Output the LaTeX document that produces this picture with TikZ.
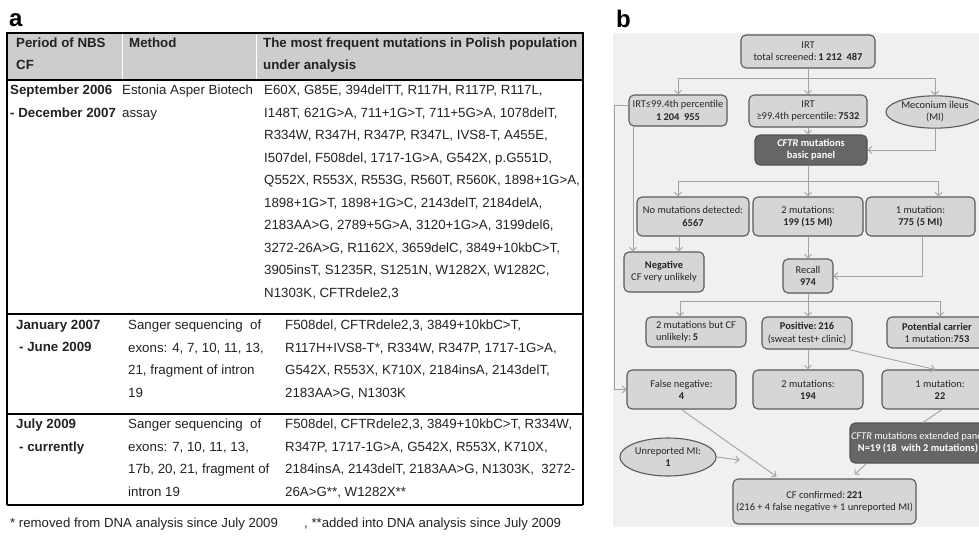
\documentclass[tikz,border=0pt]{standalone}
\usepackage{fontspec}
\setmainfont{Liberation Sans}
\newfontfamily\flowfont{Carlito}
\usetikzlibrary{arrows.meta,shapes.geometric}
\definecolor{hdrgray}{HTML}{CDCDCD}
\definecolor{panelbg}{HTML}{F0F0F0}
\definecolor{boxfill}{HTML}{D6D6D6}
\definecolor{boxline}{HTML}{5A5A5A}
\definecolor{darkfill}{HTML}{666666}
\definecolor{connc}{HTML}{A3A3A3}
\definecolor{txt}{HTML}{222222}
\begin{document}
\begin{tikzpicture}[x=1pt,y=-1pt,
 tcell/.style={anchor=north west, inner sep=0pt, align=left, font=\fontsize{13.3}{22.5}\selectfont, text=txt},
 tbold/.style={tcell, font=\fontsize{13.3}{22.5}\selectfont\bfseries},
 fnote/.style={anchor=north west, inner sep=0pt, font=\fontsize{13.2}{15}\selectfont, text=txt},
 fbox/.style={draw=boxline, line width=1.1pt, fill=boxfill, rounded corners=5pt, inner sep=1pt, align=center, font=\flowfont\fontsize{10.4}{12.2}\selectfont, text=black!85},
 fdark/.style={fbox, fill=darkfill, draw=darkfill!80!black, text=white},
 fell/.style={fbox, ellipse, rounded corners=0pt},
 conn/.style={draw=connc, line width=0.9pt, -{Straight Barb[length=3.5pt,width=7pt]}},
 plain/.style={draw=connc, line width=0.9pt},
 lbl/.style={anchor=base west, inner sep=0pt, font=\fontsize{24}{24}\selectfont\bfseries}
]
\useasboundingbox (0,0) rectangle (979,543);

% ---------------- panel a : table ----------------
\node[lbl] (la) at (9,27) {a};
\fill[hdrgray] (7,33) rectangle (583,80);
\draw[white, line width=0.8pt] (122,34) -- (122,79);
\draw[white, line width=0.8pt] (256,34) -- (256,79);
\draw[line width=2.4pt] (6,33) -- (584,33);
\draw[line width=2.4pt] (6,80) -- (584,80);
\draw[line width=2pt] (6,314) -- (584,314);
\draw[line width=1.2pt] (7,414) -- (583,414);
\draw[line width=1.2pt] (7,505) -- (583,505);
\draw[line width=2.2pt] (7,33) -- (7,405);
\draw[line width=1.2pt] (7,405) -- (7,505);
\draw[line width=1.4pt] (583,33) -- (583,505);

\node[tbold] (h1) at (16,37.5) {Period of NBS\\CF};
\node[tbold] (h2) at (129,37.5) {Method};
\node[tbold] (h3) at (263,37.5) {The most frequent mutations in Polish population\\under analysis};

\node[tbold] (r1a) at (10,85) {September 2006\\- December 2007};
\node[tcell] (r1b) at (122,85) {Estonia Asper Biotech\\assay};
\node[tcell] (r1c) at (264,85) {E60X, G85E, 394delTT, R117H, R117P, R117L,\\I148T, 621G>A, 711+1G>T, 711+5G>A, 1078delT,\\R334W, R347H, R347P, R347L, IVS8-T, A455E,\\I507del, F508del, 1717-1G>A, G542X, p.G551D,\\Q552X, R553X, R553G, R560T, R560K, 1898+1G>A,\\1898+1G>T, 1898+1G>C, 2143delT, 2184delA,\\2183AA>G, 2789+5G>A, 3120+1G>A, 3199del6,\\3272-26A>G, R1162X, 3659delC, 3849+10kbC>T,\\3905insT, S1235R, S1251N, W1282X, W1282C,\\N1303K, CFTRdele2,3};

\node[tbold] (r2a) at (16,320) {January 2007\\\hspace{3pt}- June 2009};
\node[tcell] (r2b) at (128,320) {Sanger sequencing\ \ of\\exons: 4, 7, 10, 11, 13,\\21, fragment of intron\\19};
\node[tcell] (r2c) at (285,320) {F508del, CFTRdele2,3, 3849+10kbC>T,\\R117H+IVS8-T*, R334W, R347P, 1717-1G>A,\\G542X, R553X, K710X, 2184insA, 2143delT,\\2183AA>G, N1303K};

\node[tbold] (r3a) at (16,419) {July 2009\\\hspace{3pt}- currently};
\node[tcell] (r3b) at (128,419) {Sanger sequencing\ \ of\\exons: 7, 10, 11, 13,\\17b, 20, 21, fragment of\\intron 19};
\node[tcell] (r3c) at (285,419) {F508del, CFTRdele2,3, 3849+10kbC>T, R334W,\\R347P, 1717-1G>A, G542X, R553X, K710X,\\2184insA, 2143delT, 2183AA>G, N1303K,\ \ 3272-\\26A>G**, W1282X**};

\node[fnote] (fn1) at (10,518) {* removed from DNA analysis since July 2009};
\node[fnote] (fn2) at (304,518) {, **added into DNA analysis since July 2009};

% ---------------- panel b : flowchart ----------------
\node[lbl] (lb) at (616,28) {b};
\begin{scope}
\clip (613,33) rectangle (979,543);
\fill[panelbg] (613,33) rectangle (979,527);

\node[fbox, minimum width=134pt, minimum height=33pt] (irt) at (808,51.5) {IRT\\total screened:\,\textbf{1 212\ \ 487}};
\node[fbox, minimum width=98pt, minimum height=31pt] (low) at (678,110.5) {IRT≤99.4th percentile\\\textbf{1 204\ \ 955}};
\node[fbox, minimum width=118pt, minimum height=32pt] (high) at (808,111) {IRT\\≥99.4th percentile:\,\textbf{7532}};
\node[fell, minimum width=88pt, minimum height=30pt] (mi) at (935,112) {Meconium ileus\\(MI)};
\node[fdark, minimum width=112pt, minimum height=30pt, font=\flowfont\bfseries\fontsize{10.4}{12.2}\selectfont] (basic) at (811,150) {\textit{CFTR} mutations\\basic panel};
\coordinate (bar1) at (808,78);
\coordinate (bar2) at (808,181);
\coordinate (bar3) at (808,301);
\coordinate (lx) at (614,0);

\node[fbox, minimum width=112pt, minimum height=39pt] (nm0) at (693,216.5) {No mutations detected:\\\textbf{6567}};
\node[fbox, minimum width=110pt, minimum height=39pt] (nm2) at (808,216.5) {2 mutations:\\\textbf{199 (15 MI)}};
\node[fbox, minimum width=109pt, minimum height=39pt] (nm1) at (920.5,216.5) {1 mutation:\\\textbf{775 (5 MI)}};
\node[fbox, minimum width=80pt, minimum height=40pt] (neg) at (664,272) {\textbf{Negative}\\CF very unlikely};
\node[fbox, minimum width=50pt, minimum height=34pt] (recall) at (808,276) {Recall\\\textbf{974}};
\node[fbox, minimum width=100pt, minimum height=30pt, align=left] (m2cf) at (696,332) {2 mutations but CF\\unlikely:\,\textbf{5}};
\node[fbox, minimum width=90pt, minimum height=32pt] (pos) at (807,333) {\textbf{Positive:\,216}\\(sweat test+ clinic)};
\node[fbox, minimum width=100pt, minimum height=31pt] (pot) at (937,332.5) {\textbf{Potential carrier}\\1 mutation:\textbf{753}};
\node[fbox, minimum width=109pt, minimum height=39pt] (fn) at (681.5,389.5) {False negative:\\\textbf{4}};
\node[fbox, minimum width=110pt, minimum height=39pt] (m194) at (808,389.5) {2 mutations:\\\textbf{194}};
\node[fbox, minimum width=116pt, minimum height=39pt] (m122) at (940,389.5) {1 mutation:\\\textbf{22}};
\node[fdark, minimum width=130pt, minimum height=40pt] (ext) at (918,443) {\textit{CFTR} mutations extended panel\\\textbf{N=19 (18\ \ with 2 mutations)}};
\node[fell, minimum width=89pt, minimum height=38pt] (ur) at (668,457) {Unreported MI:\\\textbf{1}};
\node[fbox, minimum width=183pt, minimum height=45pt] (cf) at (824.5,501.5) {CF confirmed:\,\textbf{221}\\(216 + 4 false negative + 1 unreported MI)};

\draw[plain] (irt.south) -- (bar1);
\draw[conn] (bar1) -- (high.north);
\draw[conn] (bar1) -| (low.north);
\draw[conn] (bar1) -| (mi.north);
\draw[conn] (high.south) -- (high.south |- basic.north);
\draw[conn] (mi.south) |- (basic.east);
\draw[plain] (bar2 |- basic.south) -- (bar2);
\draw[conn] (bar2) -- (nm2.north);
\draw[conn] (bar2) -| ([xshift=-15pt]nm0.north);
\draw[conn] (bar2) -| ([xshift=18pt]nm1.north);
\draw[conn] ([xshift=-45pt]low.south) -- ([xshift=-45pt]low.south |- neg.north);
\draw[conn] ([xshift=-14pt]nm0.south) -- ([xshift=-14pt]nm0.south |- neg.north);
\draw[conn] ([yshift=5pt]low.west) -- ([yshift=5pt]low.west -| lx) |- (fn.west);
\draw[conn] (nm2.south) -- (recall.north);
\draw[conn] ([xshift=1.5pt]nm1.south) |- (recall.east);
\draw[plain] (recall.south) -- (bar3);
\draw[conn] (bar3) -| ([xshift=-16pt]m2cf.north);
\draw[conn] (bar3) -- (bar3 |- pos.north);
\draw[conn] (bar3) -| ([xshift=3pt]pot.north);
\draw[conn] (bar3 |- pos.south) -- (m194.north);
\draw[conn] ([xshift=-4pt]pos.south east) -- ([xshift=-5pt]m122.north);
\draw[conn] (fn.south) -- ([xshift=44pt,yshift=2pt]cf.north west);
\draw[plain] ([xshift=2pt]m122.south) -- ([xshift=5pt]ext.north);
\draw[conn] ([xshift=17pt]ext.south west) -- ([xshift=-62pt,yshift=4pt]cf.north east);
\draw[conn] (ur.east) -- ([xshift=23pt,yshift=-3pt]ur.east);
\end{scope}
\end{tikzpicture}
\end{document}
